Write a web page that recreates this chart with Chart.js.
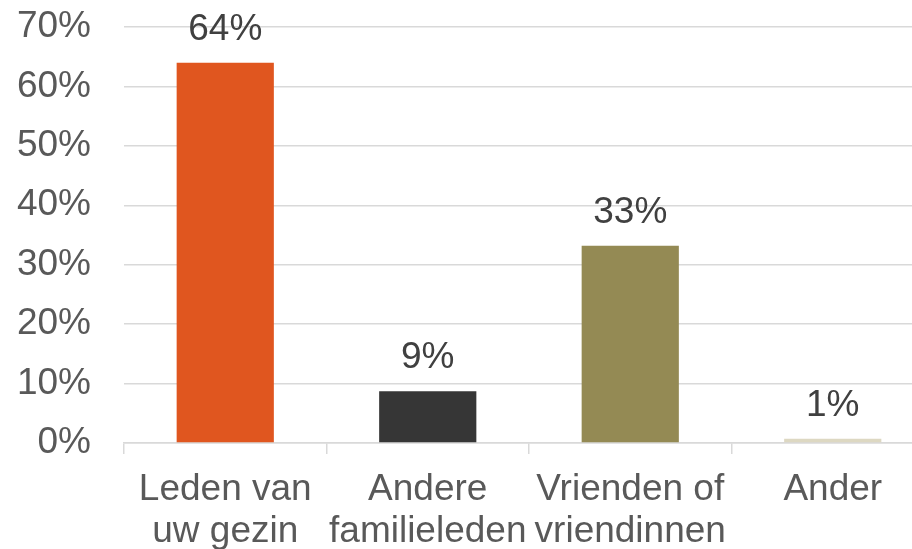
<!DOCTYPE html>
<html>
<head>
<meta charset="utf-8">
<script src="https://cdn.jsdelivr.net/npm/chart.js@4"></script>
<style>
  html, body { margin:0; padding:0; background:#fff; overflow:hidden; }
  #wrap { width:934px; height:549px; }
</style>
</head>
<body>
<div id="wrap"><canvas id="chartCanvas" width="934" height="549"></canvas></div>
<script>
// data
const categories = [['Leden van','uw gezin'], ['Andere','familieleden'], ['Vrienden of','vriendinnen'], ['Ander']];
const values = [64, 8.7, 33.2, 0.7];
const barColors = ['#E0561F', '#363636', '#948A54', '#DDD8C2'];
const yTicks = [0, 10, 20, 30, 40, 50, 60, 70];

const FONT = "'Liberation Sans', Arial, sans-serif";

// draws the percentage above each bar
const barLabels = {
  id: 'barLabels',
  afterDatasetsDraw(chart){
    const ctx = chart.ctx;
    const meta = chart.getDatasetMeta(0);
    ctx.save();
    ctx.font = '37px ' + FONT;
    ctx.fillStyle = '#404040';
    ctx.textAlign = 'center';
    ctx.textBaseline = 'alphabetic';
    meta.data.forEach((bar, i) => {
      ctx.fillText(Math.round(values[i]) + '%', bar.x, bar.y - 23);
    });
    ctx.restore();
  }
};

new Chart(document.getElementById('chartCanvas'), {
  type: 'bar',
  data: {
    labels: categories,
    datasets: [{
      data: values,
      backgroundColor: barColors,
      borderWidth: 0,
      categoryPercentage: 1,
      barPercentage: 0.48
    }]
  },
  options: {
    responsive: false,
    animation: false,
    layout: { padding: { top: 27, left: 0, right: 0, bottom: 0 } },
    plugins: { legend: { display: false }, tooltip: { enabled: false } },
    scales: {
      x: {
        afterFit: s => { s.height = 106; },
        grid: { drawOnChartArea: false, drawTicks: true, tickLength: 11, color: '#d9d9d9', lineWidth: 1.5 },
        border: { color: '#d9d9d9', width: 1.5 },
        ticks: { color: '#595959', font: { family: FONT, size: 37, lineHeight: 1.14 }, padding: 15, maxRotation: 0, autoSkip: false }
      },
      y: {
        min: 0, max: 70,
        afterFit: s => { s.width = 124; s.paddingTop = 0; s.paddingBottom = 0; },
        afterBuildTicks: s => { s.ticks = yTicks.map(v => ({ value: v })); },
        grid: { drawTicks: false, color: '#d9d9d9', lineWidth: 1.5 },
        border: { display: false },
        ticks: { color: '#595959', font: { family: FONT, size: 37 }, padding: 33, callback: v => v + '%' }
      }
    }
  },
  plugins: [barLabels]
});
</script>
</body>
</html>
